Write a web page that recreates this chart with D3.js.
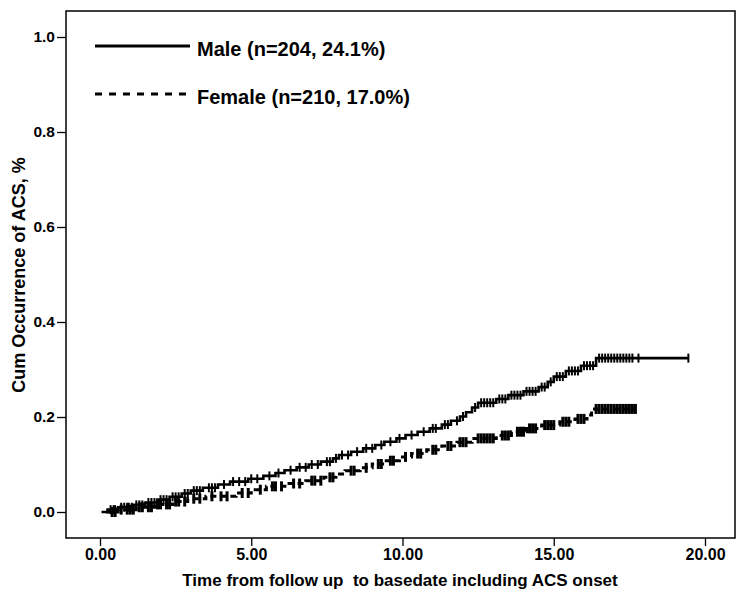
<!DOCTYPE html>
<html><head><meta charset="utf-8">
<script src="https://cdn.jsdelivr.net/npm/d3@7"></script>
<style>body{margin:0;background:#fff}</style>
</head><body>
<svg id="c" width="750" height="600"></svg>
<script>
// ---- data ----
const xTicks = [0, 5, 10, 15, 20];
const yTicks = [0, 0.2, 0.4, 0.6, 0.8, 1.0];
const seriesNames = ["Male (n=204, 24.1%)", "Female (n=210, 17.0%)"];
// step events [time, cumulative occurrence]
const maleStart = 0.05, maleEnd = 19.45;
const maleEvents = [[0.25,0.005],[0.6,0.010],[1.1,0.015],[1.5,0.020],[1.9,0.026],[2.3,0.032],[2.7,0.039],[3.0,0.045],[3.4,0.051],[3.9,0.058],[4.3,0.064],[4.9,0.070],[5.4,0.076],[5.8,0.082],[6.1,0.088],[6.5,0.094],[6.9,0.100],[7.3,0.106],[7.7,0.113],[7.9,0.120],[8.3,0.127],[8.7,0.134],[9.1,0.141],[9.4,0.148],[9.8,0.155],[10.1,0.162],[10.5,0.169],[10.9,0.176],[11.3,0.184],[11.6,0.192],[11.9,0.201],[12.1,0.210],[12.3,0.220],[12.5,0.230],[13.1,0.238],[13.5,0.246],[14.0,0.254],[14.5,0.263],[14.8,0.274],[15.0,0.285],[15.4,0.297],[15.9,0.308],[16.4,0.324]];
const maleCensored = [0.35,0.45,0.5,0.7,0.8,0.9,0.95,1.05,1.2,1.3,1.4,1.6,1.7,1.8,2.0,2.1,2.2,2.4,2.5,2.6,2.8,2.9,3.1,3.2,3.3,3.6,3.7,3.8,4.1,4.4,4.6,4.8,5.0,5.2,5.6,5.9,6.3,6.6,6.8,7.0,7.2,7.5,7.6,7.8,8.0,8.2,8.5,8.8,9.0,9.3,9.6,9.9,10.3,10.7,11.0,11.1,11.4,11.5,11.8,12.0,12.4,12.6,12.7,12.8,12.9,13.0,13.2,13.3,13.4,13.6,13.7,13.8,13.9,14.1,14.2,14.3,14.4,14.6,14.7,14.9,15.1,15.2,15.3,15.5,15.6,15.7,15.8,16.0,16.1,16.2,16.3,16.5,16.6,16.7,16.8,16.9,17.0,17.1,17.2,17.3,17.4,17.5,17.6,17.8,19.45];
const femaleStart = 0.2, femaleEnd = 17.7;
const femaleEvents = [[0.6,0.005],[1.2,0.010],[1.8,0.016],[2.4,0.022],[2.9,0.028],[3.5,0.033],[4.5,0.040],[5.0,0.047],[5.5,0.054],[6.2,0.060],[6.8,0.066],[7.4,0.073],[7.8,0.080],[8.1,0.087],[8.6,0.093],[9.0,0.101],[9.4,0.108],[9.9,0.116],[10.3,0.123],[10.8,0.131],[11.3,0.139],[11.8,0.147],[12.3,0.155],[13.1,0.161],[13.6,0.169],[14.1,0.176],[14.6,0.183],[15.2,0.190],[15.7,0.196],[16.1,0.204],[16.25,0.217]];
const femaleCensored = [0.4,0.5,0.7,0.9,1.0,1.1,1.3,1.4,1.6,1.7,1.9,2.0,2.2,2.3,2.5,2.6,2.8,3.1,3.3,3.7,4.0,4.2,4.7,4.9,5.3,5.7,5.8,6.0,6.4,6.6,7.0,7.1,7.3,7.6,7.7,8.3,8.4,8.8,9.2,9.3,9.6,9.7,10.1,10.5,10.6,11.0,11.1,11.5,11.6,11.9,12.0,12.1,12.5,12.6,12.7,12.8,12.9,13.0,13.3,13.4,13.5,13.8,13.9,14.0,14.2,14.3,14.4,14.7,14.8,14.9,15.0,15.3,15.4,15.5,15.8,15.9,16.0,16.4,16.5,16.6,16.7,16.8,16.9,17.0,17.1,17.2,17.3,17.4,17.5,17.6,17.7];

// ---- layout ----
const svg = d3.select("#c");
const box = {l:66, t:11, r:735, b:538};
const x = d3.scaleLinear().domain([0,20]).range([100,705]);
const y = d3.scaleLinear().domain([0,1]).range([512,37]);
const boldFont = "'Liberation Sans', Arial, sans-serif";
const narrowFont = "'Liberation Sans Narrow', 'Liberation Sans', Arial, sans-serif";

svg.append("rect").attr("x",box.l).attr("y",box.t)
  .attr("width",box.r-box.l).attr("height",box.b-box.t)
  .attr("fill","none").attr("stroke","#000").attr("stroke-width",1.5);

// axes
const yAxis = d3.axisLeft(y).tickValues(yTicks).tickFormat(d3.format(".1f")).tickSize(9).tickPadding(2);
const gy = svg.append("g").attr("transform",`translate(${box.l},0)`).call(yAxis);
gy.select(".domain").remove();
gy.selectAll("line").attr("stroke","#000").attr("stroke-width",1.3);
gy.selectAll("text").attr("font-family",boldFont).attr("font-weight","bold").attr("font-size",15.5).attr("fill","#000");

const xAxis = d3.axisBottom(x).tickValues(xTicks).tickFormat(d3.format(".2f")).tickSize(8).tickPadding(3);
const gx = svg.append("g").attr("transform",`translate(0,${box.b})`).call(xAxis);
gx.select(".domain").remove();
gx.selectAll("line").attr("stroke","#000").attr("stroke-width",1.3);
gx.selectAll("text").attr("font-family",narrowFont).attr("font-weight","bold").attr("font-size",16).attr("fill","#000");

svg.append("text").attr("x",400).attr("y",586).attr("text-anchor","middle")
  .attr("font-family",narrowFont).attr("font-weight","bold").attr("font-size",17)
  .style("white-space","pre")
  .text("Time from follow up  to basedate including ACS onset");
svg.append("text").attr("transform","translate(25,275) rotate(-90)").attr("text-anchor","middle")
  .attr("font-family",boldFont).attr("font-weight","bold").attr("font-size",18)
  .text("Cum Occurrence of ACS, %");

// curves
function stepPoints(start, events, end){
  const pts = [[start,0]].concat(events);
  pts.push([end, events[events.length-1][1]]);
  return pts;
}
function valueAt(events, t){
  let v = 0;
  for (const e of events) { if (e[0] <= t) v = e[1]; }
  return v;
}
const line = d3.line().x(d=>x(d[0])).y(d=>y(d[1])).curve(d3.curveStepAfter);
const series = [
  {events:maleEvents, cens:maleCensored, start:maleStart, end:maleEnd, dash:null, lw:2.6, cw:2, ch:9},
  {events:femaleEvents, cens:femaleCensored, start:femaleStart, end:femaleEnd, dash:"6,4", lw:3, cw:3, ch:10}
];
series.forEach(s=>{
  svg.append("path").datum(stepPoints(s.start,s.events,s.end)).attr("d",line)
    .attr("fill","none").attr("stroke","#000").attr("stroke-width",s.lw)
    .attr("stroke-dasharray",s.dash);
  svg.append("g").selectAll("line").data(s.cens).join("line")
    .attr("x1",d=>x(d)).attr("x2",d=>x(d))
    .attr("y1",d=>y(valueAt(s.events,d))-s.ch/2).attr("y2",d=>y(valueAt(s.events,d))+s.ch/2)
    .attr("stroke","#000").attr("stroke-width",s.cw);
});

// legend
const leg = svg.append("g");
[0,1].forEach(i=>{
  const ly = 46 + i*48;
  leg.append("line").attr("x1",95).attr("x2",190).attr("y1",ly).attr("y2",ly)
    .attr("stroke","#000").attr("stroke-width",3).attr("stroke-dasharray", i===1 ? "7,7" : null);
  leg.append("text").attr("x",197).attr("y",ly+10).attr("font-family",boldFont)
    .attr("font-weight","bold").attr("font-size",20).text(seriesNames[i]);
});
</script>
</body></html>
